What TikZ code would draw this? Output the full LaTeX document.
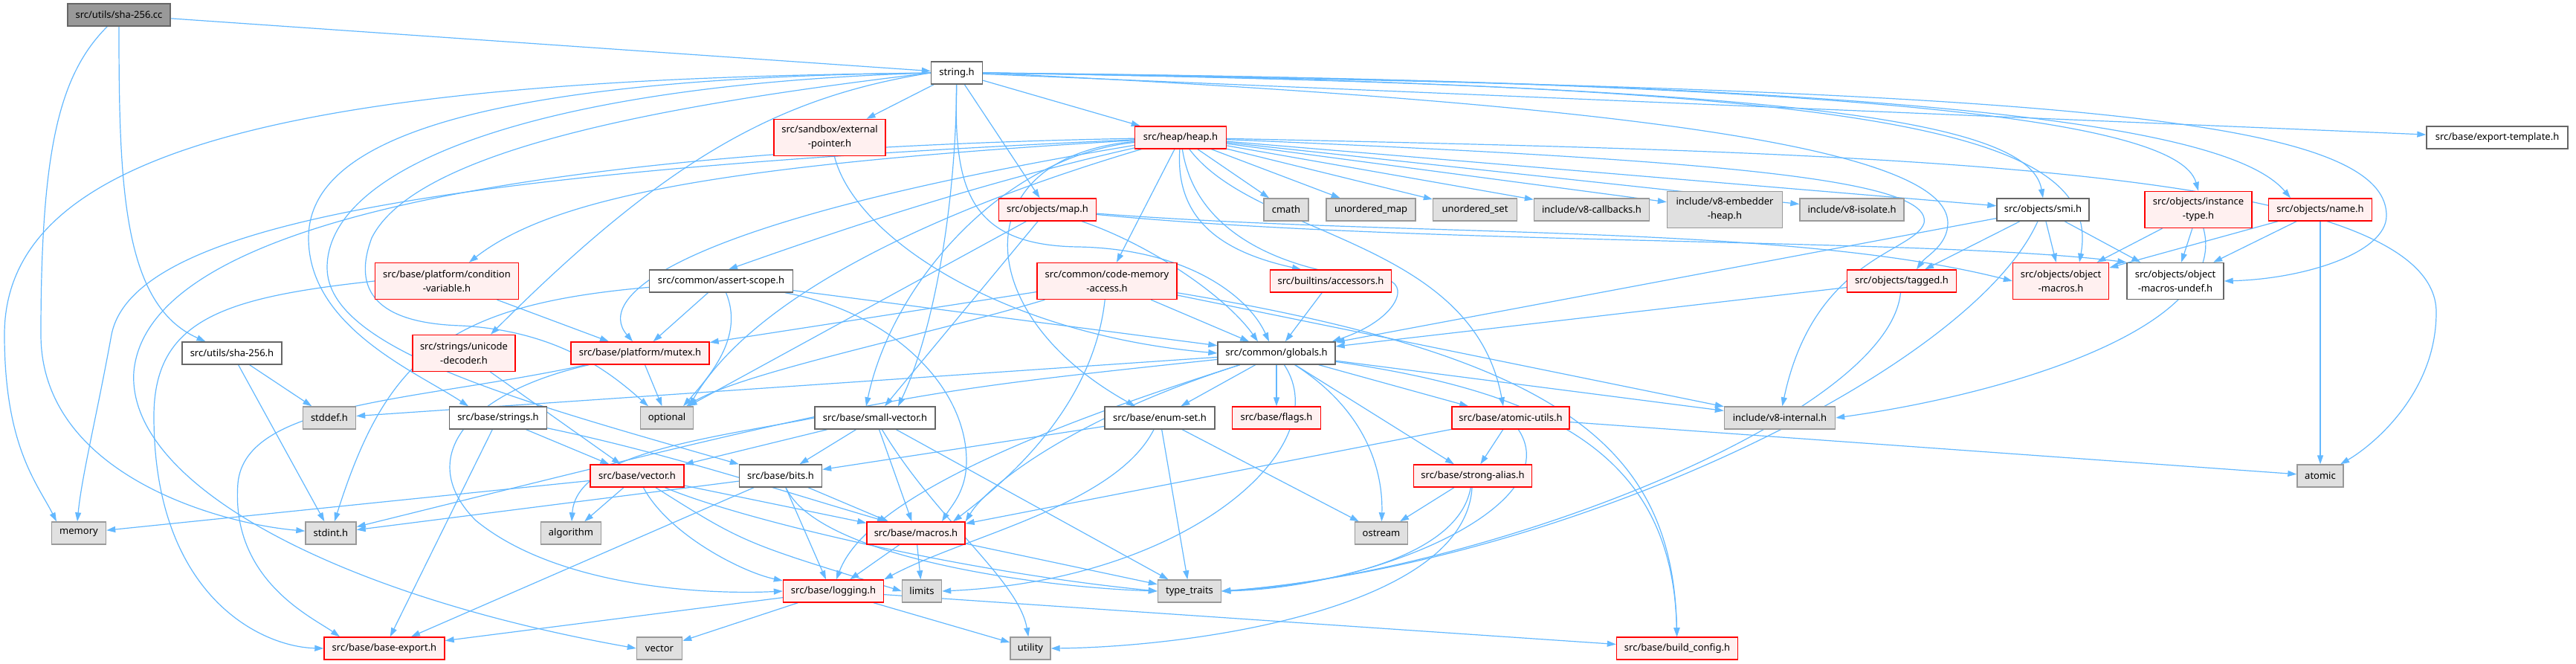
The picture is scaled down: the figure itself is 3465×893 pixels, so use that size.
\documentclass[tikz,border=0pt]{standalone}
\usepackage{fontspec}
\setmainfont{Noto Sans}
\usetikzlibrary{arrows.meta}
\pgfdeclarelayer{bg}
\pgfsetlayers{bg,main}
\definecolor{edgec}{HTML}{63B8FF}
\definecolor{redfill}{HTML}{FFF0F0}
\definecolor{grayfill}{HTML}{E0E0E0}
\definecolor{rootfill}{HTML}{999999}
\definecolor{grayline}{HTML}{999999}
\definecolor{darkline}{HTML}{666666}
\tikzset{
 box/.style={draw, rectangle, line width=1.4pt, inner sep=0pt, minimum height=30pt, font=\fontsize{13}{19}\selectfont, align=center, text=black},
 rd/.style={box, draw=red, fill=redfill},
 gr/.style={box, draw=grayline, fill=grayfill},
 wh/.style={box, draw=darkline, fill=white},
 rt/.style={box, draw=darkline, fill=rootfill},
 two/.style={minimum height=49pt},
 e/.style={draw=edgec, line width=1.2pt, -{Triangle[length=12pt,width=8pt]}},
}
\begin{document}
\begin{tikzpicture}[x=1pt,y=1pt]
\useasboundingbox (0,0) rectangle (3465,-893);
\node[rt, minimum width=138pt] (cc) at (160,-20) {src/utils/sha-256.cc};
\node[wh, minimum width=69pt] (str) at (1287,-98) {string.h};
\node[rd, two, minimum width=150pt] (ext) at (1116,-185) {src/sandbox/external\\-pointer.h};
\node[rd, minimum width=123pt] (heap) at (1588,-185) {src/heap/heap.h};
\node[wh, minimum width=190pt] (expt) at (3359,-185) {src/base/export-template.h};
\node[rd, minimum width=131pt] (map) at (1409,-282) {src/objects/map.h};
\node[gr, minimum width=60pt] (cmath) at (1730,-282) {cmath};
\node[gr, minimum width=120pt] (umap) at (1844,-282) {unordered\_map};
\node[gr, minimum width=113pt] (uset) at (1984,-282) {unordered\_set};
\node[gr, minimum width=155pt] (cb) at (2141,-282) {include/v8-callbacks.h};
\node[gr, two, minimum width=155pt] (emb) at (2320,-282) {include/v8-embedder\\-heap.h};
\node[gr, minimum width=140pt] (iso) at (2491,-282) {include/v8-isolate.h};
\node[wh, minimum width=124pt] (smi) at (2748,-282) {src/objects/smi.h};
\node[rd, two, minimum width=144pt] (inst) at (2957,-282) {src/objects/instance\\-type.h};
\node[rd, minimum width=139pt] (name) at (3121,-282) {src/objects/name.h};
\node[rd, two, minimum width=193pt] (cond) at (601,-378) {src/base/platform/condition\\-variable.h};
\node[wh, minimum width=193pt] (asc) at (970,-378) {src/common/assert-scope.h};
\node[rd, two, minimum width=188pt] (cma) at (1489,-378) {src/common/code-memory\\-access.h};
\node[rd, minimum width=163pt] (acc) at (1790,-378) {src/builtins/accessors.h};
\node[rd, minimum width=147pt] (tag) at (2558,-378) {src/objects/tagged.h};
\node[rd, two, minimum width=129pt] (om) at (2772,-378) {src/objects/object\\-macros.h};
\node[wh, two, minimum width=130pt] (omu) at (2926,-378) {src/objects/object\\-macros-undef.h};
\node[wh, minimum width=134pt] (sha) at (312,-475) {src/utils/sha-256.h};
\node[rd, two, minimum width=138pt] (ud) at (624,-475) {src/strings/unicode\\-decoder.h};
\node[rd, minimum width=186pt] (mtx) at (861,-475) {src/base/platform/mutex.h};
\node[wh, minimum width=158pt] (glob) at (1717,-475) {src/common/globals.h};
\node[gr, minimum width=71pt] (stddef) at (443,-562) {stddef.h};
\node[wh, minimum width=131pt] (strs) at (670,-562) {src/base/strings.h};
\node[gr, minimum width=71pt] (opt) at (897,-562) {optional};
\node[wh, minimum width=162pt] (sv) at (1177,-562) {src/base/small-vector.h};
\node[wh, minimum width=148pt] (es) at (1560,-562) {src/base/enum-set.h};
\node[rd, minimum width=119pt] (flags) at (1717,-562) {src/base/flags.h};
\node[rd, minimum width=158pt] (au) at (2032,-562) {src/base/atomic-utils.h};
\node[gr, minimum width=149pt] (v8i) at (2394,-562) {include/v8-internal.h};
\node[rd, minimum width=126pt] (vec) at (857,-640) {src/base/vector.h};
\node[wh, minimum width=111pt] (bits) at (1050,-640) {src/base/bits.h};
\node[rd, minimum width=159pt] (sa) at (1981,-640) {src/base/strong-alias.h};
\node[gr, minimum width=62pt] (atomic) at (3121,-640) {atomic};
\node[gr, minimum width=73pt] (memory) at (106,-717) {memory};
\node[gr, minimum width=68pt] (stdint) at (445,-717) {stdint.h};
\node[gr, minimum width=81pt] (algo) at (768,-717) {algorithm};
\node[rd, minimum width=132pt] (mac) at (1232,-717) {src/base/macros.h};
\node[gr, minimum width=71pt] (ostream) at (1858,-717) {ostream};
\node[rd, minimum width=135pt] (log) at (1121,-795) {src/base/logging.h};
\node[gr, minimum width=53pt] (limits) at (1240,-795) {limits};
\node[gr, minimum width=85pt] (tt) at (1600,-795) {type\_traits};
\node[rd, minimum width=162pt] (be) at (517,-872) {src/base/base-export.h};
\node[gr, minimum width=61pt] (vector) at (887,-872) {vector};
\node[gr, minimum width=54pt] (util) at (1386,-872) {utility};
\node[rd, minimum width=163pt] (bc) at (2256,-872) {src/base/build\_config.h};
\begin{pgfonlayer}{bg}
% root
\draw[e] (cc) -- (str);
\draw[e] (cc) .. controls (160,-250) and (165,-410) .. (sha);
\draw[e] (cc) .. controls (80,-100) and (55,-200) .. (55,-450) .. controls (55,-640) and (300,-705) .. (stdint);
% string.h
\draw[e] (str) .. controls (400,-105) and (6,-200) .. (6,-450) .. controls (6,-600) and (50,-650) .. ([xshift=-30pt]memory.north);
\draw[e] (str) -- (ext);
\draw[e] (str) -- (heap);
\draw[e] (str) -- (map);
\draw[e] (str) -- (expt);
\draw[e] (str.east) .. controls (2400,-115) and (2730,-160) .. (smi.north);
\draw[e] (str.east) .. controls (2500,-110) and (2930,-160) .. (inst.north);
\draw[e] (str.east) .. controls (2600,-110) and (3000,-170) .. ([xshift=-40pt]name.north);
\draw[e] (str.east) .. controls (2500,-115) and (2830,-170) .. ([xshift=25pt]om.north);
\draw[e] (str.east) .. controls (2700,-120) and (3210,-150) .. (3210,-290) .. controls (3210,-340) and (3100,-375) .. (omu.east);
\draw[e] (str.east) .. controls (2200,-140) and (2620,-200) .. (2620,-300) .. controls (2620,-330) and (2590,-345) .. ([xshift=20pt]tag.north);
\draw[e] (str) .. controls (1283,-250) and (1300,-330) .. (1450,-332) .. controls (1600,-335) and (1680,-400) .. ([xshift=-10pt]glob.north);
\draw[e] (str) .. controls (1285,-300) and (1250,-460) .. ([xshift=31pt]sv.north);
\draw[e] (str.west) .. controls (600,-105) and (415,-200) .. (415,-320) .. controls (415,-440) and (560,-500) .. ([xshift=-40pt]strs.north);
\draw[e] (str.west) .. controls (700,-115) and (440,-230) .. (440,-360) .. controls (440,-470) and (700,-540) .. (bits.north west);
\draw[e] (str.west) .. controls (1050,-130) and (900,-210) .. ([xshift=36pt]ud.north);
\draw[e] (str.west) .. controls (900,-140) and (560,-200) .. (500,-320) .. controls (470,-400) and (520,-435) .. (620,-438) .. controls (750,-445) and (820,-500) .. ([xshift=-25pt]opt.north);
% heap.h
\draw[e] (heap) .. controls (600,-230) and (180,-300) .. (150,-450) .. controls (130,-560) and (110,-640) .. ([xshift=-2pt]memory.north);
\draw[e] (heap) .. controls (800,-200) and (200,-280) .. (180,-500) .. controls (170,-650) and (450,-800) .. (vector.west);
\draw[e] (heap) .. controls (1000,-220) and (750,-260) .. ([xshift=30pt]cond.north);
\draw[e] (heap) .. controls (900,-300) and (800,-400) .. ([xshift=-10pt]mtx.north);
\draw[e] (heap) .. controls (1300,-250) and (1100,-320) .. ([xshift=10pt]asc.north);
\draw[e] (heap) .. controls (1200,-300) and (1000,-420) .. ([xshift=30pt]opt.north);
\draw[e] (heap) .. controls (1350,-210) and (1200,-380) .. ([xshift=-12pt]sv.north);
\draw[e] (heap) .. controls (1300,-210) and (1300,-420) .. ([xshift=-33pt]es.north);
\draw[e] (heap) .. controls (1610,-330) and (1760,-370) .. (1860,-375) .. controls (1900,-380) and (1880,-430) .. ([xshift=-5pt]glob.north east);
\draw[e] (heap) -- (cma);
\draw[e] (heap) .. controls (1580,-300) and (1650,-340) .. ([xshift=-40pt]acc.north);
\draw[e] (heap) .. controls (1690,-320) and (1980,-320) .. ([xshift=-10pt]au.north);
\draw[e] (heap) -- (cmath);
\draw[e] (heap) -- (umap);
\draw[e] (heap) -- (uset);
\draw[e] (heap) -- (cb);
\draw[e] (heap) -- (emb);
\draw[e] (heap) -- (iso);
\draw[e] (heap) -- (smi);
\draw[e] (heap) .. controls (2500,-205) and (3277,-220) .. (3277,-420) .. controls (3277,-530) and (3190,-600) .. (atomic);
\draw[e] (heap) .. controls (2300,-215) and (2600,-240) .. (2588,-300) .. controls (2575,-340) and (2440,-345) .. (v8i);
% map.h
\draw[e] (map) .. controls (1900,-320) and (2400,-300) .. (om.west);
\draw[e] (map) .. controls (1900,-330) and (2600,-320) .. (omu.north west);
\draw[e] (map) -- ([xshift=13pt]sv.north);
\draw[e] (map) -- (opt);
\draw[e] (map) .. controls (1550,-330) and (1650,-400) .. ([xshift=-25pt]glob.north);
% external-pointer.h
\draw[e] (ext) .. controls (1150,-320) and (1350,-450) .. (glob.west);
% condition-variable.h
\draw[e] (cond) -- (mtx);
\draw[e] (cond.west) .. controls (300,-400) and (207,-430) .. (207,-560) .. controls (207,-800) and (350,-870) .. (be.west);
% assert-scope.h
\draw[e] (asc) .. controls (600,-410) and (520,-480) .. (stdint);
\draw[e] (asc) -- (mtx);
\draw[e] (asc) .. controls (1000,-450) and (960,-500) .. ([xshift=22pt]opt.north);
\draw[e] (asc) .. controls (1200,-420) and (1300,-520) .. (1300,-620) .. controls (1300,-660) and (1280,-680) .. ([xshift=35pt]mac.north);
\draw[e] (asc) -- (glob);
% code-memory-access.h
\draw[e] (cma) -- (mtx);
\draw[e] (cma) .. controls (1250,-450) and (1000,-500) .. ([xshift=26pt]opt.north);
\draw[e] (cma) -- (glob);
\draw[e] (cma) .. controls (1470,-550) and (1350,-650) .. ([xshift=50pt]mac.north);
\draw[e] (cma) -- (v8i);
\draw[e] (cma) .. controls (2100,-480) and (2250,-600) .. (bc);
% accessors.h
\draw[e] (acc) -- (glob);
% smi.h
\draw[e] (smi) -- (glob);
\draw[e] (smi) -- (tag);
\draw[e] (smi) -- (om);
\draw[e] (smi) -- (omu);
\draw[e] (smi) .. controls (2650,-500) and (2100,-760) .. (tt.east);
% tagged.h
\draw[e] (tag) -- (glob);
\draw[e] (tag) .. controls (2540,-560) and (2000,-770) .. (tt.east);
% instance-type.h, name.h
\draw[e] (inst) -- (om);
\draw[e] (inst) -- (omu);
\draw[e] (inst) .. controls (3000,-440) and (2700,-530) .. (v8i.east);
\draw[e] (name) -- (om);
\draw[e] (name) -- (omu);
\draw[e] (name) -- (atomic);
% sha-256.h
\draw[e] (sha) -- (stddef);
\draw[e] (sha) -- (stdint);
% unicode-decoder.h
\draw[e] (ud) -- (vec);
% mutex.h
\draw[e] (mtx) -- (opt);
\draw[e] (mtx) .. controls (560,-540) and (330,-540) .. (320,-650) .. controls (310,-780) and (420,-830) .. ([xshift=-60pt]be.north);
\draw[e] (mtx) .. controls (620,-530) and (560,-620) .. (640,-700) .. controls (750,-790) and (950,-800) .. (log.west);
% globals.h
\draw[e] (glob) -- (stddef);
\draw[e] (glob) .. controls (1200,-530) .. (stdint);
\draw[e] (glob) .. controls (1450,-560) and (1330,-650) .. (mac.north east);
\draw[e] (glob) .. controls (1450,-560) and (1170,-660) .. ([xshift=4pt]log.north);
\draw[e] (glob) -- (es);
\draw[e] (glob) -- (flags);
\draw[e] (glob) .. controls (1800,-600) and (1600,-780) .. (limits.east);
\draw[e] (glob) .. controls (1850,-560) and (1860,-650) .. (ostream);
\draw[e] (glob) -- (sa);
\draw[e] (glob) -- (au);
\draw[e] (glob) -- (v8i);
\draw[e] (glob) .. controls (2100,-530) and (2250,-620) .. (bc);
% small-vector.h
\draw[e] (sv) -- (vec);
\draw[e] (sv.west) .. controls (950,-590) and (775,-610) .. (algo);
\draw[e] (sv) -- (bits);
\draw[e] (sv) -- (mac);
\draw[e] (sv) .. controls (1260,-700) and (1370,-780) .. (util);
\draw[e] (sv) -- (tt);
% enum-set.h
\draw[e] (es) -- (bits);
\draw[e] (es) .. controls (1500,-680) and (1300,-720) .. (log.north east);
\draw[e] (es) -- (tt);
\draw[e] (es) -- (ostream);
% atomic-utils.h
\draw[e] (au) -- (mac);
\draw[e] (au) -- (sa);
\draw[e] (au) .. controls (2110,-680) and (1850,-790) .. (tt.east);
\draw[e] (au) -- (atomic);
% strong-alias.h
\draw[e] (sa) -- (ostream);
\draw[e] (sa) .. controls (1960,-760) and (1750,-790) .. (tt.east);
\draw[e] (sa) .. controls (1970,-820) and (1600,-870) .. (util.east);
% vector.h
\draw[e] (vec) -- (memory);
\draw[e] (vec) -- (algo);
\draw[e] (vec) .. controls (900,-720) and (1000,-770) .. (log);
\draw[e] (vec) -- (mac);
\draw[e] (vec) .. controls (1000,-730) .. (limits.west);
\draw[e] (vec) .. controls (1000,-700) and (1300,-770) .. (tt.west);
% bits.h
\draw[e] (bits) -- (stdint);
\draw[e] (bits) -- (be);
\draw[e] (bits) -- (mac);
\draw[e] (bits) .. controls (1100,-750) and (1400,-790) .. (tt.west);
\draw[e] (bits) -- ([xshift=-10pt]log.north);
% strings.h
\draw[e] (strs) -- (be);
\draw[e] (strs) -- (vec);
\draw[e] (strs) .. controls (900,-610) and (1050,-660) .. ([xshift=-40pt]mac.north);
% macros.h
\draw[e] (mac) -- (log);
\draw[e] (mac) -- (limits);
\draw[e] (mac) -- (tt);
% logging.h
\draw[e] (log) -- (be);
\draw[e] (log) -- (vector);
\draw[e] (log) -- (util);
\draw[e] (log) -- (bc);
\end{pgfonlayer}
\end{tikzpicture}
\end{document}
